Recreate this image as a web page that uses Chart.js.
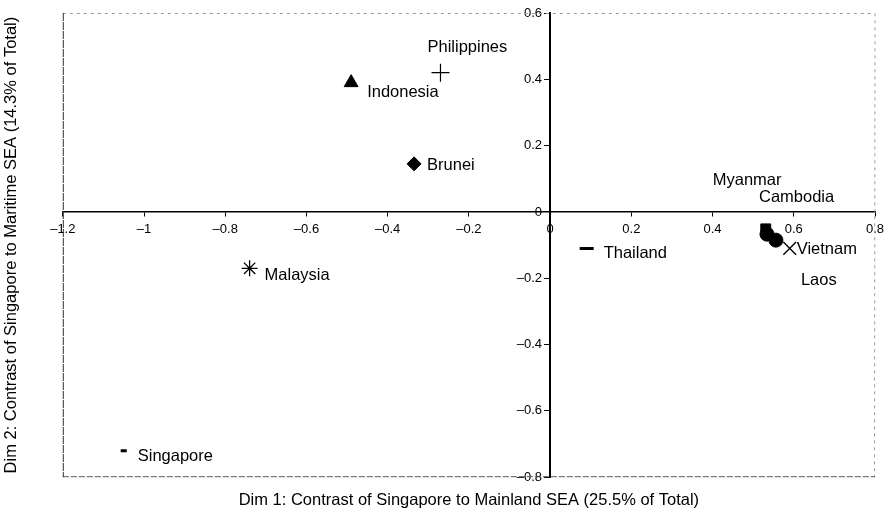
<!DOCTYPE html>
<html>
<head>
<meta charset="utf-8">
<title>Correspondence map: Southeast Asia</title>
<script src="https://cdn.jsdelivr.net/npm/chart.js@4.4.1/dist/chart.umd.min.js"></script>
<style>
    html, body { margin: 0; padding: 0; background: #fff; }
    #map { display: block; }
</style>
</head>
<body>
<canvas id="map" width="895" height="512"></canvas>
<script>
// Country scores on the two dimensions
const countries = ["Philippines", "Indonesia", "Brunei", "Malaysia", "Singapore",
    "Thailand", "Myanmar", "Cambodia", "Laos", "Vietnam"];
const dim1 = [-0.27, -0.49, -0.335, -0.74, -1.05, 0.09, 0.531, 0.534, 0.556, 0.59];
const dim2 = [0.42, 0.39, 0.145, -0.17, -0.72, -0.11, -0.051, -0.067, -0.085, -0.11];

// Axis ranges and titles
const dim1Range = [-1.2, 0.8];
const dim2Range = [-0.8, 0.6];
const dim1Title = "Dim 1: Contrast of Singapore to Mainland SEA (25.5% of Total)";
const dim2Title = "Dim 2: Contrast of Singapore to Maritime SEA (14.3% of Total)";

// marker per country: [pointStyle, radius, line width]
const markerStyle = {
    Philippines: ["cross", 9, 1.2],
    Indonesia: ["triangle", 8, 1],
    Brunei: ["rectRot", 7, 1],
    Malaysia: ["star", 8, 1.3],
    Singapore: ["line", 3, 3],
    Thailand: ["line", 7, 3],
    Myanmar: ["rect", 7, 1],
    Cambodia: ["circle", 7, 1],
    Laos: ["circle", 7, 1],
    Vietnam: ["crossRot", 9, 1.4],
};

// where each name sits relative to its marker (left edge, middle)
const labelOffsets = {
    Philippines: [-13, -25], Indonesia: [16, 10], Brunei: [13, 2], Malaysia: [15, 7],
    Singapore: [14, 6], Thailand: [17, 5], Myanmar: [-53, -48], Cambodia: [-8, -37],
    Laos: [25, 40], Vietnam: [7, 1]
};

const FONT = '"Liberation Sans", Arial, Helvetica, sans-serif';

function tickText(v) {
    const r = Math.round(v * 10) / 10;
    if (r === 0) return "0";
    return (r < 0 ? "\u2013" : "") + Math.abs(r);
}

// Names next to the markers
const pointNames = {
    id: "pointNames",
    afterDatasetsDraw(chart) {
        const ctx = chart.ctx;
        const meta = chart.getDatasetMeta(0);
        ctx.save();
        ctx.fillStyle = "#000";
        ctx.font = "16.5px " + FONT;
        ctx.textAlign = "left";
        ctx.textBaseline = "middle";
        meta.data.forEach(function (el, i) {
            const off = labelOffsets[countries[i]];
            ctx.fillText(countries[i], el.x + off[0], el.y + off[1]);
        });
        ctx.restore();
    },
};

// Dotted frame round the plot
const frame = {
    id: "frame",
    beforeDatasetsDraw(chart) {
        const { ctx, chartArea: a } = chart;
        ctx.save();
        ctx.lineWidth = 1;
        ctx.setLineDash([3, 4]);
        ctx.strokeStyle = "#9a9a9a";
        ctx.beginPath();
        ctx.moveTo(a.left, a.top + 0.5);
        ctx.lineTo(a.right, a.top + 0.5);
        ctx.lineTo(a.right - 0.5, a.bottom);
        ctx.stroke();
        ctx.strokeStyle = "#555";
        ctx.setLineDash([6, 2]);
        ctx.beginPath();
        ctx.moveTo(a.left, a.bottom - 0.5);
        ctx.lineTo(a.right, a.bottom - 0.5);
        ctx.stroke();
        ctx.setLineDash([8, 1]);
        ctx.strokeStyle = "#333";
        ctx.beginPath();
        ctx.moveTo(a.left + 0.5, a.top);
        ctx.lineTo(a.left + 0.5, a.bottom);
        ctx.stroke();
        ctx.restore();
    },
};

const tickFont = { family: FONT, size: 13 };

new Chart(document.getElementById("map"), {
    type: "scatter",
    data: {
        datasets: [{
            data: dim1.map(function (x, i) { return { x: x, y: dim2[i] }; }),
            pointStyle: countries.map(function (c) { return markerStyle[c][0]; }),
            pointRadius: countries.map(function (c) { return markerStyle[c][1]; }),
            borderWidth: countries.map(function (c) { return markerStyle[c][2]; }),
            backgroundColor: "#000",
            borderColor: "#000",
        }],
    },
    options: {
        responsive: false,
        animation: false,
        events: [],
        layout: { padding: { top: 13, right: 20 }, autoPadding: false },
        plugins: {
            legend: { display: false },
            tooltip: { enabled: false },
        },
        scales: {
            x: {
                type: "linear",
                min: dim1Range[0],
                max: dim1Range[1],
                position: { y: 0 },
                grid: { display: true, drawOnChartArea: false, tickLength: 4, color: "#000" },
                border: { display: true, color: "#000", width: 1.5 },
                ticks: {
                    stepSize: 0.2,
                    padding: 6,
                    color: "#000",
                    font: tickFont,
                    maxRotation: 0,
                    autoSkip: false,
                    callback: tickText,
                },
            },
            y: {
                type: "linear",
                min: dim2Range[0],
                max: dim2Range[1],
                position: { x: 0 },
                grid: { display: true, drawOnChartArea: false, tickLength: 5, color: "#000" },
                border: { display: true, color: "#000", width: 2 },
                ticks: { stepSize: 0.2, display: false },
            },
            // tick labels of Dim 2, set just left of the axis line
            yTicks: {
                type: "linear",
                axis: "y",
                min: dim2Range[0],
                max: dim2Range[1],
                position: { x: -0.02 },
                grid: { display: false, drawTicks: false },
                border: { display: false },
                ticks: {
                    stepSize: 0.2,
                    color: "#000",
                    font: tickFont,
                    autoSkip: false,
                    callback: tickText,
                },
            },
            xTitle: {
                type: "linear",
                axis: "x",
                position: "bottom",
                min: dim1Range[0],
                max: dim1Range[1],
                grid: { display: false, drawTicks: false },
                border: { display: false },
                ticks: { display: false },
                title: {
                    display: true,
                    text: dim1Title,
                    color: "#000",
                    font: { family: FONT, size: 16.5 },
                    padding: { top: 13, bottom: 2 },
                },
            },
            yTitle: {
                type: "linear",
                axis: "y",
                position: "left",
                min: dim2Range[0],
                max: dim2Range[1],
                grid: { display: false, drawTicks: false },
                border: { display: false },
                ticks: { display: false },
                title: {
                    display: true,
                    text: dim2Title,
                    color: "#000",
                    font: { family: FONT, size: 16.5 },
                    padding: { top: 2, bottom: 41 },
                },
            },
        },
    },
    plugins: [frame, pointNames],
});
</script>
</body>
</html>
